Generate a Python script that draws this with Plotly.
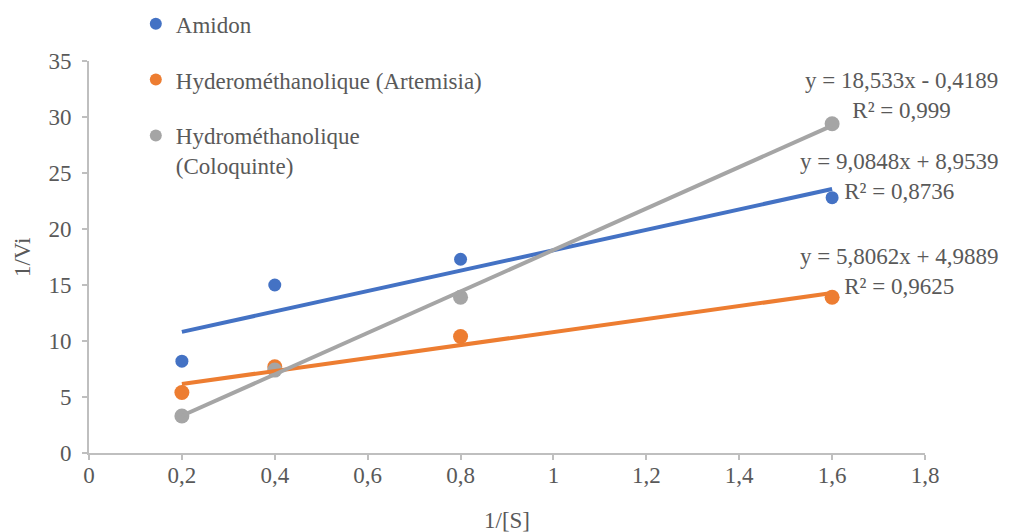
import numpy as np
import plotly.graph_objects as go

x_vals = [0.2, 0.4, 0.8, 1.6]
amidon = [8.2, 15.0, 17.3, 22.8]
artemisia = [5.4, 7.7, 10.4, 13.9]
coloquinte = [3.3, 7.4, 13.9, 29.4]

names = ["Amidon", "Hyderométhanolique (Artemisia)", "Hydrométhanolique<br>(Coloquinte)"]
colors = ["#4472C4", "#ED7D31", "#A5A5A5"]
msizes = [13, 15, 15]
equations = ["y = 9,0848x + 8,9539<br>R² = 0,8736",
             "y = 5,8062x + 4,9889<br>R² = 0,9625",
             "y = 18,533x - 0,4189<br>R² = 0,999"]
eq_pos = [(1.745, 24.7), (1.745, 16.25), (1.75, 31.95)]

x_ticks = [0, 0.2, 0.4, 0.6, 0.8, 1, 1.2, 1.4, 1.6, 1.8]
x_ticktext = ["0", "0,2", "0,4", "0,6", "0,8", "1", "1,2", "1,4", "1,6", "1,8"]

FONT = "Liberation Serif"
TXT = "#595959"
FS = 23

fig = go.Figure()
series = [amidon, artemisia, coloquinte]
for i, ys in enumerate(series):
    fig.add_trace(go.Scatter(x=x_vals, y=ys, mode="markers", name=names[i],
                             legendgroup=str(i),
                             marker=dict(color=colors[i], size=msizes[i])))
for i, ys in enumerate(series):
    slope, inter = np.polyfit(x_vals, ys, 1)
    xs = np.array([min(x_vals), max(x_vals)])
    fig.add_trace(go.Scatter(x=xs, y=slope * xs + inter, mode="lines",
                             showlegend=False, hoverinfo="skip",
                             line=dict(color=colors[i], width=4)))
    fig.add_annotation(x=eq_pos[i][0], y=eq_pos[i][1], xref="x", yref="y",
                       text=equations[i], showarrow=False, align="center",
                       font=dict(family=FONT, size=FS, color=TXT))

# axis titles
fig.add_annotation(x=-0.08, y=0.5, xref="paper", yref="paper", text="1/Vi",
                   textangle=-90, showarrow=False, xanchor="center", yanchor="middle",
                   font=dict(family=FONT, size=FS, color=TXT))
fig.add_annotation(x=0.5, y=-0.171, xref="paper", yref="paper", text="1/[S]",
                   showarrow=False, xanchor="center", yanchor="middle",
                   font=dict(family=FONT, size=FS, color=TXT))

fig.update_layout(
    width=1003, height=524,
    margin=dict(l=81, r=86, t=53, b=79, autoexpand=False),
    paper_bgcolor="white", plot_bgcolor="white",
    font=dict(family=FONT, size=FS, color=TXT),
    showlegend=True,
    legend=dict(x=0.056, y=1.15, xanchor="left", yanchor="top",
                font=dict(family=FONT, size=FS, color=TXT),
                tracegroupgap=23, valign="top", bgcolor="rgba(0,0,0,0)",
                itemsizing="constant"),
    xaxis=dict(range=[0, 1.8], tickvals=x_ticks, ticktext=x_ticktext,
               showgrid=False, zeroline=False, showline=True,
               linecolor="#BFBFBF", linewidth=2, ticks="outside",
               tickcolor="#BFBFBF", ticklen=5, tickwidth=2, automargin=False,
               ticklabelstandoff=-5,
               tickfont=dict(family=FONT, size=FS, color=TXT)),
    yaxis=dict(range=[0, 35], dtick=5, showgrid=False, zeroline=False,
               showline=True, linecolor="#BFBFBF", linewidth=2, automargin=False,
               ticks="outside", tickcolor="#BFBFBF", ticklen=5, tickwidth=2,
               ticklabelstandoff=6,
               tickfont=dict(family=FONT, size=FS, color=TXT)),
)

fig.write_html("out.html")
